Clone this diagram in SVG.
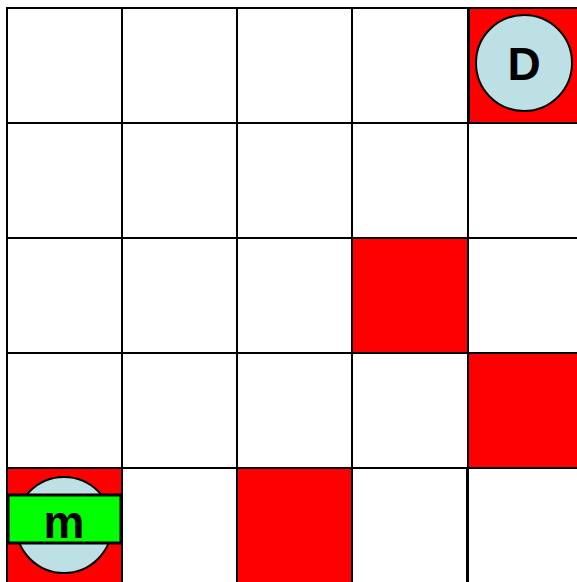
<svg xmlns="http://www.w3.org/2000/svg" width="577" height="582" viewBox="0 0 577 582">
<style>
.c{fill:#fff;stroke:#000;stroke-width:2}
.r{fill:#f00;stroke:#000;stroke-width:2}
.tok{fill:#bce0e4;stroke:#000;stroke-width:2}
.lbl{font-family:"Liberation Sans",Arial,sans-serif;font-weight:bold;font-size:46px;fill:#000;text-anchor:middle}
</style>
<rect width="577" height="582" fill="#fff"/>
<g id="grid">
<rect class="c" x="7" y="8" width="115" height="115"/>
<rect class="c" x="122" y="8" width="115" height="115"/>
<rect class="c" x="237" y="8" width="115" height="115"/>
<rect class="c" x="352" y="8" width="116" height="115"/>
<rect class="c" x="7" y="123" width="115" height="115"/>
<rect class="c" x="122" y="123" width="115" height="115"/>
<rect class="c" x="237" y="123" width="115" height="115"/>
<rect class="c" x="352" y="123" width="116" height="115"/>
<rect class="c" x="468" y="123" width="115" height="115"/>
<rect class="c" x="7" y="238" width="115" height="115"/>
<rect class="c" x="122" y="238" width="115" height="115"/>
<rect class="c" x="237" y="238" width="115" height="115"/>
<rect class="c" x="468" y="238" width="115" height="115"/>
<rect class="c" x="7" y="353" width="115" height="115"/>
<rect class="c" x="122" y="353" width="115" height="115"/>
<rect class="c" x="237" y="353" width="115" height="115"/>
<rect class="c" x="352" y="353" width="116" height="115"/>
<rect class="c" x="122" y="468" width="115" height="116"/>
<rect class="c" x="352" y="468" width="115" height="116"/>
<rect class="c" x="468" y="468" width="115" height="116"/>
</g>
<g id="obstacles">
<rect class="r" x="352" y="238" width="116" height="115"/>
<rect class="r" x="468" y="353" width="115" height="115"/>
<rect class="r" x="237" y="468" width="115" height="116"/>
</g>
<g id="node-D">
<rect class="r" x="469" y="8" width="115" height="115"/>
<circle class="tok" cx="524" cy="63" r="48"/>
<text class="lbl" x="524" y="80">D</text>
</g>
<g id="node-m">
<rect class="r" x="7" y="468" width="115" height="116"/>
<circle class="tok" cx="64" cy="525" r="48"/>
<rect x="8" y="495" width="113" height="48" fill="#0f0" stroke="#000" stroke-width="3"/>
<text class="lbl" x="64" y="538">m</text>
</g>
<g id="connectors"></g>
</svg>
